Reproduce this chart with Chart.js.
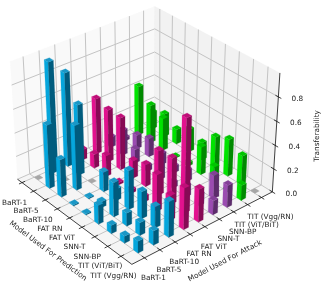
<!DOCTYPE html>
<html>
<head>
<meta charset="utf-8">
<style>body{margin:0;background:#fff}canvas{display:block}</style>
<script src="https://cdn.jsdelivr.net/npm/chart.js@4"></script>
</head>
<body>
<canvas id="chart" width="327" height="287"></canvas>
<script>
const models = ['BaRT-1','BaRT-5','BaRT-10','FAT RN','FAT ViT','SNN-T','SNN-BP','TIT (ViT/BiT)','TIT (Vgg/RN)'];
const zTicks = [0, 0.2, 0.4, 0.6, 0.8];

// one row per model used for prediction, one column per model used for attack
const predBaRT1  = [0.00, 0.94, 0.80, 0.09, 0.48, 0.09, 0.03, 0.43, 0.15];
const predBaRT5  = [0.54, 0.00, 0.60, 0.12, 0.45, 0.22, 0.12, 0.33, 0.20];
const predBaRT10 = [0.32, 0.55, 0.00, 0.18, 0.45, 0.12, 0.16, 0.28, 0.13];
const predFatRN  = [0.01, 0.01, 0.17, 0.02, 0.15, 0.05, 0.10, 0.01, 0.20];
const predFatVit = [0.01, 0.05, 0.10, 0.03, 0.19, 0.22, 0.06, 0.03, 0.15];
const predSnnT   = [0.16, 0.29, 0.33, 0.05, 0.38, 0.05, 0.10, 0.24, 0.27];
const predSnnBP  = [0.07, 0.11, 0.23, 0.31, 0.39, 0.10, 0.00, 0.14, 0.32];
const predTitVit = [0.06, 0.11, 0.18, 0.21, 0.79, 0.10, 0.20, 0.01, 0.25];
const predTitVgg = [0.10, 0.12, 0.30, 0.35, 0.28, 0.12, 0.19, 0.13, 0.00];
const rows = [predBaRT1, predBaRT5, predBaRT10, predFatRN, predFatVit, predSnnT, predSnnBP, predTitVit, predTitVgg];

// colour group of each attack column
const attackGroup = [0, 0, 0, 1, 1, 2, 2, 3, 3];
const palette = [
    {left: '#06a6dc', right: '#005c7e', top: '#1a97c6'},
    {left: '#e2128e', right: '#870a55', top: '#bf0f78'},
    {left: '#9a4cb0', right: '#5d2c6c', top: '#844098'},
    {left: '#00e400', right: '#008a00', top: '#00c400'}
];
const zeroColor = '#a6a6a6';

// view of the 3d box
const xLim = [-0.4, 8.8], yLim = [-0.8, 8.8], zLim = [0, 0.99];
const azim = -40 * Math.PI / 180, elev = 32 * Math.PI / 180, dist = 7, boxH = 0.75;
const barW = 0.33;
const cx = 144, cy = 128, sx = 186, sy = 186;

function project(xv, yv, zv) {
    const u = (xv - xLim[0]) / (xLim[1] - xLim[0]) - 0.5;
    const v = (yv - yLim[0]) / (yLim[1] - yLim[0]) - 0.5;
    const z = ((zv - zLim[0]) / (zLim[1] - zLim[0]) - 0.5) * boxH;
    const s = -u * Math.sin(azim) + v * Math.cos(azim);
    const f = u * Math.cos(azim) + v * Math.sin(azim);
    const t = z * Math.cos(elev) - f * Math.sin(elev);
    const c = f * Math.cos(elev) + z * Math.sin(elev);
    const p = dist / (dist - c);
    return {x: s * p, y: t * p};
}

const datasets = [];
function poly(pts, color) {
    datasets.push({data: pts.map(q => project(q[0], q[1], q[2])), showLine: true, fill: 'shape',
        backgroundColor: color, borderColor: color, borderWidth: 0.2, pointRadius: 0, tension: 0});
}
function line(a, b, color, w) {
    datasets.push({data: [project(a[0], a[1], a[2]), project(b[0], b[1], b[2])], showLine: true, fill: false,
        borderColor: color, borderWidth: w, pointRadius: 0, tension: 0});
}

const [x0, x1] = xLim, [y0, y1] = yLim, [z0, z1] = zLim;
// panes
poly([[x0,y0,z0],[x0,y1,z0],[x0,y1,z1],[x0,y0,z1],[x0,y0,z0]], '#f9f9f9');
poly([[x0,y1,z0],[x1,y1,z0],[x1,y1,z1],[x0,y1,z1],[x0,y1,z0]], '#f2f2f2');
poly([[x0,y0,z0],[x1,y0,z0],[x1,y1,z0],[x0,y1,z0],[x0,y0,z0]], '#f5f5f5');
// grid
const gridColor = '#c4c4c4';
models.forEach((m, i) => {
    line([i,y0,z0],[i,y1,z0], gridColor, 1);
    line([i,y1,z0],[i,y1,z1], gridColor, 1);
    line([x0,i,z0],[x1,i,z0], gridColor, 1);
    line([x0,i,z0],[x0,i,z1], gridColor, 1);
});
zTicks.forEach(z => {
    line([x0,y0,z],[x0,y1,z], gridColor, 1);
    line([x0,y1,z],[x1,y1,z], gridColor, 1);
});
// axis lines and tick marks
line([x0,y0,z0],[x1,y0,z0], '#111', 0.8);
line([x1,y0,z0],[x1,y1,z0], '#111', 0.8);
line([x1,y1,z0],[x1,y1,z1], '#111', 0.8);
models.forEach((m, i) => {
    line([i,y0-0.2,z0],[i,y0+0.2,z0], '#111', 0.8);
    line([x1+0.2,i,z0],[x1-0.2,i,z0], '#111', 0.8);
});
zTicks.forEach(z => line([x1+0.2,y1,z],[x1-0.2,y1,z], '#111', 0.8));

// bars, back to front
for (let i = 0; i < rows.length; i++) {
    for (let j = rows[i].length - 1; j >= 0; j--) {
        const h = rows[i][j];
        const a = i, b = a + barW, c = j, d = c + barW;
        if (h === 0) {
            poly([[a,c,0],[b,c,0],[b,d,0],[a,d,0],[a,c,0]], zeroColor);
            continue;
        }
        const col = palette[attackGroup[j]];
        poly([[a,c,0],[b,c,0],[b,c,h],[a,c,h],[a,c,0]], col.left);
        poly([[b,c,0],[b,d,0],[b,d,h],[b,c,h],[b,c,0]], col.right);
        poly([[a,c,h],[b,c,h],[b,d,h],[a,d,h],[a,c,h]], col.top);
    }
}
datasets.forEach((d, k) => { d.order = -k; });

const axisText = {
    id: 'axisText',
    afterDraw(chart) {
        const {ctx, scales} = chart;
        const px = q => [scales.x.getPixelForValue(q.x), scales.y.getPixelForValue(q.y)];
        ctx.save();
        ctx.font = '7.3px "DejaVu Sans"';
        ctx.fillStyle = '#222';
        ctx.textAlign = 'center';
        ctx.textBaseline = 'middle';
        models.forEach((m, i) => {
            let p = px(project(i, y0, z0));
            ctx.fillText(m, p[0] - 7.5, p[1] + 20);
            p = px(project(x1, i, z0));
            ctx.fillText(m, p[0] + 9, p[1] + 20);
        });
        zTicks.forEach(z => {
            const p = px(project(x1, y1, z));
            ctx.fillText(z.toFixed(1), p[0] + 19, p[1] + 2);
        });
        const rotated = (text, x, y, deg) => {
            ctx.save();
            ctx.translate(x, y);
            ctx.rotate(deg * Math.PI / 180);
            ctx.fillText(text, 0, 0);
            ctx.restore();
        };
        rotated('Transferability', 317, 136, -90);
        rotated('Model Used For Prediction', 48, 251, 37);
        rotated('Model Used For Attack', 225, 261, -27.5);
        ctx.restore();
    }
};

new Chart(document.getElementById('chart'), {
    type: 'scatter',
    data: {datasets},
    options: {
        responsive: false,
        animation: false,
        events: [],
        layout: {padding: 0},
        plugins: {legend: {display: false}, tooltip: {enabled: false}},
        scales: {
            x: {type: 'linear', display: false, min: (0 - cx) / sx, max: (327 - cx) / sx},
            y: {type: 'linear', display: false, min: (cy - 287) / sy, max: cy / sy}
        }
    },
    plugins: [axisText]
});
</script>
</body>
</html>
